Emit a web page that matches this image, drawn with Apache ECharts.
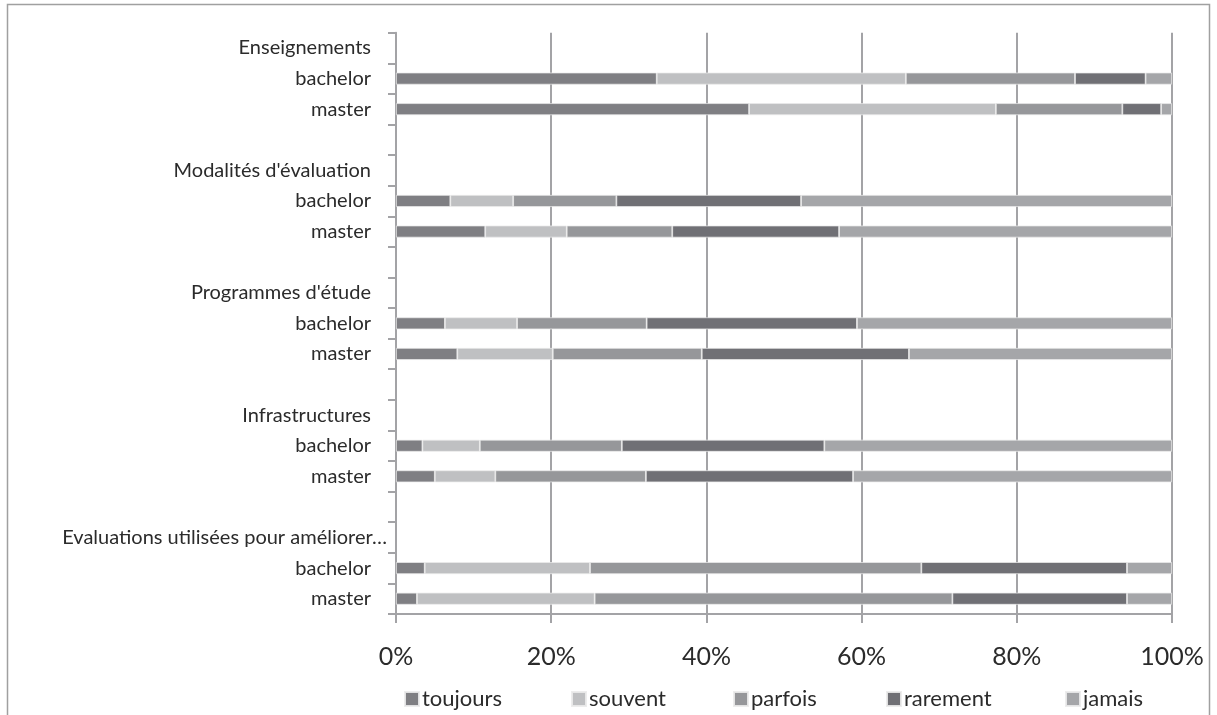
<!DOCTYPE html>
<html>
<head>
<meta charset="utf-8">
<script src="https://cdn.jsdelivr.net/npm/echarts@6/dist/echarts.min.js"></script>
<style>
html,body{margin:0;padding:0;background:#fff;}
#chart{width:1217px;height:715px;}
</style>
</head>
<body>
<div id="chart"></div>
<script>
// Row labels (top to bottom); blank rows are spacers, group headers carry no bar
const categories = [
  'Enseignements', 'bachelor', 'master', '',
  "Modalités d'évaluation", 'bachelor', 'master', '',
  "Programmes d'étude", 'bachelor', 'master', '',
  'Infrastructures', 'bachelor', 'master', '',
  'Evaluations utilisées pour améliorer…', 'bachelor', 'master'
];
const seriesNames = ['toujours', 'souvent', 'parfois', 'rarement', 'jamais'];
const xTicks = [0, 20, 40, 60, 80, 100];

// Percent values per row ('-' = no bar)
const toujours = ['-', 33.6, 45.5, '-', '-', 7.0, 11.5, '-', '-', 6.3, 7.9, '-', '-', 3.4, 5.0, '-', '-', 3.7, 2.7];
const souvent  = ['-', 32.1, 31.8, '-', '-', 8.1, 10.5, '-', '-', 9.3, 12.3, '-', '-', 7.4, 7.8, '-', '-', 21.3, 22.9];
const parfois  = ['-', 21.8, 16.3, '-', '-', 13.3, 13.6, '-', '-', 16.7, 19.2, '-', '-', 18.3, 19.4, '-', '-', 42.7, 46.1];
const rarement = ['-', 9.1, 5.0, '-', '-', 23.8, 21.5, '-', '-', 27.1, 26.7, '-', '-', 26.1, 26.7, '-', '-', 26.5, 22.5];
const jamais   = ['-', 3.4, 1.4, '-', '-', 47.8, 42.9, '-', '-', 40.6, 33.9, '-', '-', 44.8, 41.1, '-', '-', 5.8, 5.8];

const values = [toujours, souvent, parfois, rarement, jamais];
const colors = ['#7f7f83', '#bfc0c2', '#96979a', '#707075', '#a5a6a9'];
const legendLeft = [404, 571, 733, 886, 1065];

const FONT = 'Lato';
const axisGrey = '#a3a3a6';
const textCol = '#2b2b2b';

const chart = echarts.init(document.getElementById('chart'));
const option = {
  backgroundColor: '#ffffff',
  animation: false,
  textStyle: { fontFamily: FONT },
  graphic: [{
    type: 'rect',
    shape: { x: 7.5, y: 4.5, width: 1202, height: 730 },
    style: { fill: 'none', stroke: '#a0a0a0', lineWidth: 1.5 },
    silent: true
  }],
  legend: seriesNames.map((n, i) => ({
    data: [n],
    left: legendLeft[i],
    top: 688,
    padding: 0,
    itemWidth: 14,
    itemHeight: 14,
    itemGap: 0,
    icon: 'rect',
    selectedMode: false,
    textStyle: { fontFamily: FONT, fontSize: 22, color: textCol, padding: [0, 0, 0, -2] }
  })),
  grid: { left: 396, right: 45, top: 32.7, bottom: 101, containLabel: false },
  xAxis: {
    type: 'value',
    min: 0, max: 100, interval: 20,
    axisLine: { show: true, lineStyle: { color: axisGrey, width: 2 } },
    axisTick: { show: true, length: 9, lineStyle: { color: axisGrey, width: 2 } },
    splitLine: { show: true, lineStyle: { color: axisGrey, width: 2 } },
    axisLabel: {
      margin: 30,
      fontSize: 25,
      color: textCol,
      fontFamily: FONT,
      formatter: v => (xTicks.indexOf(v) >= 0 ? v + '%' : '')
    }
  },
  yAxis: {
    type: 'category',
    inverse: true,
    data: categories,
    axisLine: { show: true, lineStyle: { color: axisGrey, width: 2 } },
    axisTick: { show: true, length: 8, lineStyle: { color: axisGrey, width: 2 } },
    splitLine: { show: false },
    axisLabel: {
      margin: 9,
      fontSize: 20,
      color: textCol,
      fontFamily: FONT,
      interval: 0,
      formatter: v => (v.indexOf('…') >= 0 ? '{l|' + v + '}' : '{n|' + v + '}'),
      rich: {
        n: { fontSize: 20, fontFamily: FONT, color: textCol, padding: [0, 16, 0, 0] },
        l: { fontSize: 20, fontFamily: FONT, color: textCol }
      }
    }
  },
  series: seriesNames.map((n, i) => ({
    name: n,
    type: 'bar',
    stack: 'total',
    barWidth: 12,
    data: values[i],
    itemStyle: { color: colors[i], borderColor: 'rgba(235,235,235,0.9)', borderWidth: 0.8 },
    emphasis: { disabled: true }
  }))
};
chart.setOption(option);
</script>
</body>
</html>
